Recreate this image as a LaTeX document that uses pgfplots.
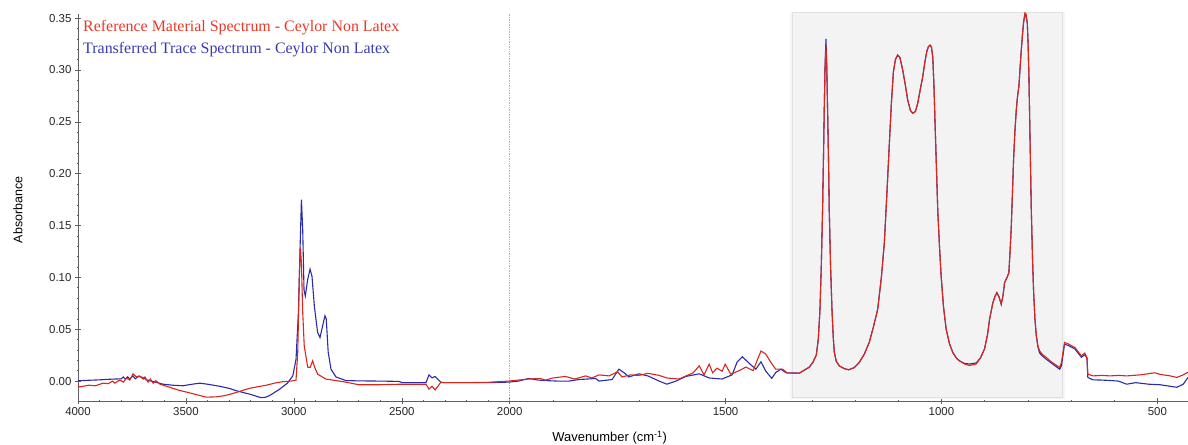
\documentclass[border=0pt]{standalone}
\usepackage{fontspec}
\setmainfont{Liberation Sans}
\newfontfamily\timesfont{Liberation Serif}
\usepackage{pgfplots}
\pgfplotsset{compat=1.18}

\definecolor{specred}{RGB}{214,38,30}
\definecolor{specblue}{RGB}{42,42,172}
\definecolor{legred}{RGB}{232,56,40}
\definecolor{legblue}{RGB}{58,58,178}
\definecolor{boxgray}{RGB}{243,243,243}
\definecolor{boxedge}{RGB}{224,224,224}
\definecolor{axisgray}{RGB}{95,95,95}

% Transferred trace spectrum
\pgfplotstableread{
w A
4000 0.0003
3950 0.0008
3900 0.0012
3850 0.0018
3800 0.0022
3790 0.0040
3780 0.0018
3770 0.0042
3760 0.0020
3745 0.0050
3735 0.0022
3720 0.0045
3700 0.0035
3680 0.0010
3650 -0.0005
3606 -0.0030
3560 -0.0040
3514 -0.0045
3470 -0.0030
3436 -0.0020
3400 -0.0030
3344 -0.0050
3300 -0.0070
3267 -0.0093
3206 -0.0125
3152 -0.0160
3130 -0.0155
3113 -0.0140
3067 -0.0080
3030 -0.0020
3005 0.0050
2990 0.0210
2979 0.0660
2971 0.1300
2965 0.1750
2959 0.1460
2953 0.0880
2947 0.0820
2936 0.0980
2925 0.1080
2916 0.1010
2905 0.0720
2890 0.0470
2879 0.0420
2867 0.0530
2856 0.0630
2850 0.0600
2841 0.0280
2828 0.0115
2805 0.0040
2759 0.0005
2700 0.0002
2600 0.0000
2513 -0.0003
2499 -0.0015
2388 -0.0015
2374 0.0060
2360 0.0030
2346 0.0045
2320 -0.0010
2305 -0.0015
2200 -0.0015
2100 -0.0015
2005 -0.0010
1980 0.0000
1956 0.0025
1935 0.0010
1917 0.0005
1890 0.0000
1863 0.0000
1840 0.0015
1801 0.0025
1793 0.0000
1763 0.0015
1747 0.0115
1735 0.0080
1724 0.0040
1701 0.0070
1680 0.0050
1654 0.0000
1636 -0.0030
1615 0.0000
1592 0.0045
1561 0.0070
1538 0.0030
1508 0.0020
1485 0.0060
1473 0.0186
1461 0.0234
1445 0.0170
1430 0.0115
1418 0.0186
1407 0.0096
1393 0.0026
1384 0.0083
1372 0.0115
1360 0.0080
1329 0.0077
1306 0.0135
1298 0.0180
1290 0.0250
1285.4 0.0400
1281.4 0.0690
1278.4 0.1100
1275.4 0.1650
1273.3 0.2150
1271.5 0.2620
1269.6 0.3050
1267.5 0.3300
1265.7 0.3050
1263.8 0.2620
1261.7 0.2150
1259.9 0.1650
1256.8 0.1100
1253.6 0.0690
1250.6 0.0420
1248.3 0.0280
1243.6 0.0190
1236.7 0.0147
1225.1 0.0120
1215.1 0.0109
1201.9 0.0130
1190.3 0.0180
1178.7 0.0260
1167.1 0.0375
1157.8 0.0520
1147.8 0.0690
1139.2 0.1000
1132.3 0.1336
1126.5 0.1800
1120.6 0.2300
1116 0.2680
1111.4 0.2980
1106.7 0.3100
1101.4 0.3144
1096.3 0.3120
1089.8 0.3000
1083.5 0.2850
1078.2 0.2710
1071.9 0.2610
1066.6 0.2583
1060.3 0.2600
1055 0.2680
1048.7 0.2820
1043.4 0.2936
1038.3 0.3080
1034.1 0.3176
1030.2 0.3225
1026.2 0.3240
1023.2 0.3220
1020.2 0.3128
1017.4 0.2850
1014.6 0.2455
1011.6 0.2050
1008.6 0.1650
1004.6 0.1300
1000.7 0.1010
995.4 0.0720
989.1 0.0500
981.4 0.0360
973.8 0.0276
965.2 0.0220
958.2 0.0195
946.6 0.0170
935 0.0165
919.5 0.0175
909.5 0.0225
900.2 0.0310
893.3 0.0450
888.6 0.0596
880.9 0.0757
875.8 0.0820
871.7 0.0853
866.6 0.0810
861.5 0.0740
857.3 0.0830
853.8 0.0950
848.1 0.1000
843.9 0.1045
841.1 0.1250
838.3 0.1490
835.3 0.1850
833 0.2135
830 0.2400
826.7 0.2615
823.7 0.2750
820.7 0.2840
816.7 0.3100
812.8 0.3320
809.7 0.3460
806.7 0.3530
804 0.3520
801.2 0.3450
799.3 0.3250
797.4 0.2936
794.7 0.2300
791.9 0.1650
788.9 0.1150
786.5 0.0853
783.5 0.0600
780.3 0.0436
776.6 0.0330
772.6 0.0270
765.7 0.0240
757.1 0.0210
747.1 0.0180
737.8 0.0150
726.2 0.0115
722 0.0150
715 0.0355
707 0.0345
691 0.0310
676 0.0230
668 0.0255
663 0.0220
661 0.0035
649 0.0012
630 0.0010
610 0.0006
590 0.0000
571 -0.0030
550 -0.0015
520 -0.0030
494 -0.0035
470 -0.0050
455 -0.0060
440 -0.0030
429 0.0035
}\tracedata

% Reference material spectrum
\pgfplotstableread{
w A
4000 -0.0055
3991 -0.0055
3950 -0.0040
3920 -0.0045
3883 -0.0020
3860 -0.0025
3840 0.0000
3830 -0.0020
3806 0.0010
3790 -0.0010
3775 0.0030
3760 0.0010
3745 0.0070
3730 0.0040
3715 0.0050
3698 0.0020
3690 0.0040
3675 -0.0010
3665 0.0020
3652 -0.0020
3640 0.0005
3620 -0.0030
3590 -0.0050
3560 -0.0070
3529 -0.0090
3490 -0.0110
3452 -0.0130
3406 -0.0155
3359 -0.0152
3320 -0.0140
3283 -0.0120
3245 -0.0095
3206 -0.0070
3168 -0.0055
3128 -0.0040
3090 -0.0020
3052 -0.0006
3013 0.0000
3000 0.0005
2990 0.0010
2982 0.0280
2975 0.0980
2970 0.1290
2965 0.1140
2959 0.0660
2952 0.0340
2936 0.0135
2925 0.0130
2913 0.0195
2904 0.0135
2890 0.0067
2852 0.0020
2790 0.0000
2759 -0.0010
2700 -0.0035
2600 -0.0035
2500 -0.0030
2388 -0.0030
2374 -0.0077
2360 -0.0050
2346 -0.0085
2320 -0.0015
2200 -0.0015
2100 -0.0012
2005 0.0000
1956 0.0020
1930 0.0025
1917 0.0010
1900 0.0030
1871 0.0045
1850 0.0020
1824 0.0050
1810 0.0030
1793 0.0060
1770 0.0050
1750 0.0090
1740 0.0040
1720 0.0060
1701 0.0055
1680 0.0075
1654 0.0055
1636 0.0030
1608 0.0020
1575 0.0080
1561 0.0147
1550 0.0060
1538 0.0163
1530 0.0080
1520 0.0125
1508 0.0095
1501 0.0163
1488 0.0066
1469 0.0100
1453 0.0135
1436 0.0100
1426 0.0210
1418 0.0290
1407 0.0260
1395 0.0180
1384 0.0115
1368 0.0115
1357 0.0077
1329 0.0077
1306 0.0135
1298 0.0180
1290 0.0250
1285.4 0.0400
1281.4 0.0690
1278.4 0.1100
1275.4 0.1650
1273.3 0.2150
1271.5 0.2620
1269.6 0.3020
1267.5 0.3240
1265.7 0.3020
1263.8 0.2620
1261.7 0.2150
1259.9 0.1650
1256.8 0.1100
1253.6 0.0690
1250.6 0.0420
1248.3 0.0280
1243.6 0.0190
1236.7 0.0147
1225.1 0.0120
1215.1 0.0109
1201.9 0.0130
1190.3 0.0180
1178.7 0.0260
1167.1 0.0375
1157.8 0.0520
1147.8 0.0690
1139.2 0.1000
1132.3 0.1336
1126.5 0.1800
1120.6 0.2300
1116 0.2680
1111.4 0.2980
1106.7 0.3100
1101.4 0.3144
1096.3 0.3120
1089.8 0.3000
1083.5 0.2850
1078.2 0.2710
1071.9 0.2610
1066.6 0.2583
1060.3 0.2600
1055 0.2680
1048.7 0.2820
1043.4 0.2936
1038.3 0.3080
1034.1 0.3176
1030.2 0.3225
1026.2 0.3240
1023.2 0.3220
1020.2 0.3128
1017.4 0.2850
1014.6 0.2455
1011.6 0.2050
1008.6 0.1650
1004.6 0.1300
1000.7 0.1010
995.4 0.0720
989.1 0.0500
981.4 0.0360
973.8 0.0276
965.2 0.0220
958.2 0.0195
946.6 0.0165
935 0.0150
919.5 0.0165
909.5 0.0225
900.2 0.0310
893.3 0.0450
888.6 0.0596
880.9 0.0757
875.8 0.0820
871.7 0.0853
866.6 0.0810
861.5 0.0740
857.3 0.0830
853.8 0.0950
848.1 0.1000
843.9 0.1045
841.1 0.1250
838.3 0.1490
835.3 0.1850
833 0.2135
830 0.2400
826.7 0.2615
823.7 0.2750
820.7 0.2840
816.7 0.3100
812.8 0.3320
809.7 0.3470
806.7 0.3550
804 0.3540
801.2 0.3450
799.3 0.3250
797.4 0.2936
794.7 0.2300
791.9 0.1650
788.9 0.1150
786.5 0.0853
783.5 0.0600
780.3 0.0436
776.6 0.0340
772.6 0.0290
765.7 0.0255
757.1 0.0228
747.1 0.0190
737.8 0.0163
726.2 0.0131
722 0.0180
715 0.0372
707 0.0360
691 0.0324
676 0.0244
668 0.0270
663 0.0225
661 0.0067
649 0.0050
630 0.0055
610 0.0050
590 0.0055
571 0.0050
540 0.0060
506 0.0080
494 0.0065
470 0.0050
455 0.0035
440 0.0060
429 0.0086
}\refdata

\begin{document}
\begin{tikzpicture}
\begin{axis}[
  scale only axis,
  width=1110bp, height=387bp,
  % wavenumber axis: 4000-2000 compressed to half the scale of 2000-400
  x coord trafo/.code={\pgfmathparse{#1>=2000 ? (4000-#1)*0.5 : 3000-#1}},
  x coord inv trafo/.code={\pgfmathparse{#1<=1000 ? 4000-2*#1 : 3000-#1}},
  xmin=4000, xmax=429,
  ymin=-0.0192, ymax=0.354,
  axis x line*=bottom, axis y line*=left,
  axis line style={-, color=axisgray, line width=0.6bp},
  tick style={color=axisgray, line width=0.6bp},
  tick align=center,
  major tick length=6bp, minor tick length=2.5bp,
  xtick={4000,3500,3000,2500,2000,1500,1000,500},
  xticklabels={4000,3500,3000,2500,2000,1500,1000,500},
  minor xtick={3900,3800,3700,3600,3400,3300,3200,3100,2900,2800,2700,2600,2400,2300,2200,2100,1900,1800,1700,1600,1400,1300,1200,1100,900,800,700,600},
  ytick={0,0.05,0.10,0.15,0.20,0.25,0.30,0.35},
  minor y tick num=4,
  yticklabel style={/pgf/number format/.cd, fixed, fixed zerofill, precision=2, assume math mode=true},
  ticklabel style={font=\fontsize{11.5}{13}\selectfont, text=black!85},
  xlabel={Wavenumber (cm\textsuperscript{-1})},
  ylabel={Absorbance},
  xlabel style={font=\fontsize{13}{15}\selectfont, at={(axis description cs:0.479,0)}, anchor=center, yshift=-37bp},
  ylabel style={font=\fontsize{12.5}{15}\selectfont, at={(axis description cs:0,0.494)}, anchor=center, yshift=60bp},
  clip=false,
]
% highlighted fingerprint window
\fill[black!4] (axis cs:1351,-0.0168) rectangle (axis cs:714,0.3562);
\fill[boxgray, draw=boxedge, line width=0.8bp] (axis cs:1346,-0.0158) rectangle (axis cs:719,0.3555);
% 2000 cm-1 scale break
\draw[densely dotted, black!30, line width=0.7bp] (axis cs:2000,-0.0192) -- (axis cs:2000,0.354);

\addplot[specblue, line width=1.1bp] table[x=w, y=A] {\tracedata};
\addplot[specred, line width=1.1bp] table[x=w, y=A] {\refdata};

\node[anchor=west, text=legred, font=\timesfont\fontsize{16}{18}\selectfont, inner sep=0pt]
  at (rel axis cs:0,0.966) [xshift=5bp] {Reference Material Spectrum - Ceylor Non Latex};
\node[anchor=west, text=legblue, font=\timesfont\fontsize{16}{18}\selectfont, inner sep=0pt]
  at (rel axis cs:0,0.907) [xshift=5bp] {Transferred Trace Spectrum - Ceylor Non Latex};
\end{axis}
\pgfresetboundingbox
\path (-78bp,-44bp) rectangle (1110bp,401bp);
\end{tikzpicture}
\end{document}
